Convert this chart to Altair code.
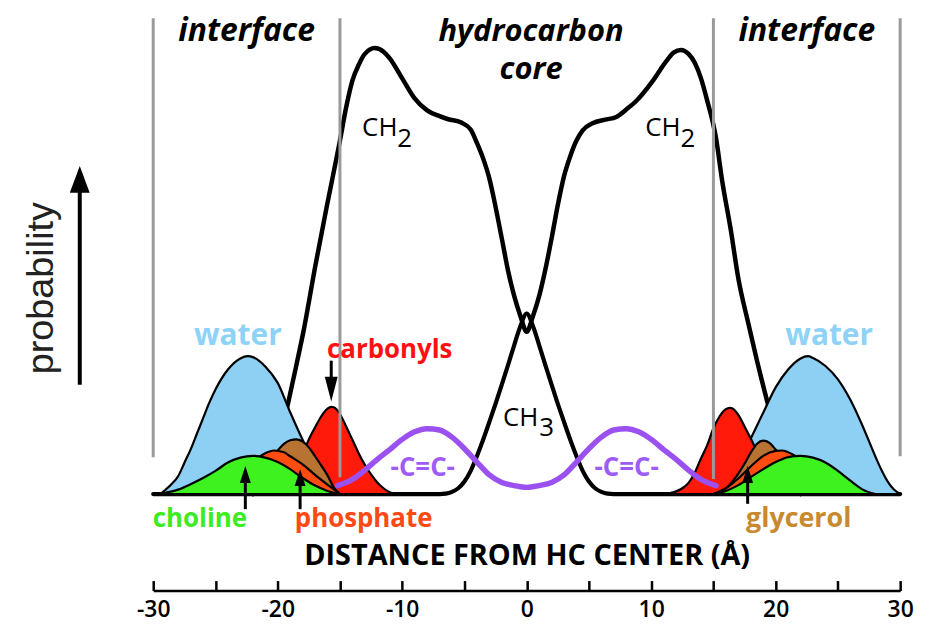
import altair as alt
import pandas as pd

# ------------------------------------------------------------------
# Data (x: distance from HC centre in Å,
# y: relative probability, arbitrary units)
# ------------------------------------------------------------------
ch2_x = [-22, -21, -20, -19.2, -18.5, -17.9, -17, -16, -15, -14.5, -14, -13.5, -13, -12.2,
         -11.5, -11, -10, -9, -8, -7, -6.3, -5.3, -4.5, -4, -3.5, -3, -2.5, -2, -1.5, -1,
         -0.5, 0, 0.5, 1, 1.5, 2, 2.5, 3, 3.5, 4, 4.5, 5.3, 6.3, 7.2, 8, 8.8, 10.1, 11.2,
         11.8, 12.4, 13, 13.5, 14, 14.5, 15.2, 15.7, 16.4, 17, 17.8, 18.5, 19.4, 20.3, 21, 22]
ch2_y = [0, 3, 10.5, 20, 29, 37, 51, 65.5, 79.5, 87, 93, 96.5, 99, 100.3,
         99.5, 98, 93.5, 89, 86.3, 85, 84.3, 83.6, 82, 79, 75.5, 71, 64.6, 57.5, 50.3, 44.5,
         40, 36.5, 40, 44.5, 50.5, 57.5, 65, 71.5, 76, 79.5, 81.8, 83.4, 84.2, 84.8, 86.5, 88.4, 92.8, 97.3,
         99.3, 99.9, 99, 97, 93.5, 88.5, 80.2, 70.5, 59.3, 48.5, 38.4, 30, 20, 11, 5, 0]

ch3_x = [-30, -7, -6.5, -6, -5.5, -5, -4.5, -4, -3.5, -3, -2.5, -2, -1.5, -1, -0.5, 0,
         0.5, 1, 1.5, 2, 2.5, 3, 3.5, 4, 4.5, 5, 5.5, 6, 6.5, 7, 30]
ch3_y = [0, 0, 0.1, 0.5, 1.3, 2.8, 5.2, 8.5, 12.2, 16.2, 20.3, 24.6, 29, 33.5, 37.8, 40.6,
         37.8, 33.5, 29, 24.6, 20.3, 16.2, 12.2, 8.5, 5.2, 2.8, 1.3, 0.5, 0.1, 0, 0]

cc_x = [-15.2, -14, -13, -12, -11, -10, -9, -8, -7, -6, -5, -4, -3, -2, -1, 0,
        1, 2, 3, 4, 5, 6, 7, 8, 9, 10, 11, 12, 13, 14, 15.2]
cc_y = [1.9, 3.3, 5.4, 7.8, 10, 12.3, 14, 14.7, 14.4, 12.8, 10.2, 7.2, 4.3, 2.6, 1.9, 1.5,
        1.9, 2.6, 4.3, 7.2, 10.2, 12.8, 14.4, 14.7, 14, 12.3, 10, 7.8, 5.4, 3.3, 1.9]

water_l_x = [-30, -29.5, -29, -28.5, -28, -27.5, -27, -26.5, -26, -25.5, -25, -24, -23, -22.4,
             -22, -21, -20, -19, -18, -17, -16, -15.5, -15]
water_l_y = [0, 0, 1, 2.3, 4, 7, 10, 13.5, 17, 20.5, 23.5, 28, 30.5, 31,
             30.8, 28.7, 25, 18.4, 12.2, 6.8, 2.8, 0.8, 0]
water_r_x = [15, 15.5, 16, 17, 18, 19, 20, 21, 22, 22.6, 23, 24, 25, 26, 27, 28, 28.5, 29, 29.5, 30]
water_r_y = [0, 0.8, 2.8, 7, 12.5, 18.3, 24, 28, 30.5, 31, 30.6, 28.8, 25.8, 21.2, 15.2, 8.5, 5.4, 2.8, 1, 0]

choline_l_x = [-29.5, -29, -28, -27, -26, -25, -24, -23, -22, -21, -20, -19, -18, -17, -16, -15]
choline_l_y = [0, 0.3, 1, 2.2, 3.6, 5.2, 7.1, 8.2, 8.6, 8.2, 7.2, 5.6, 3.6, 1.9, 0.7, 0]
choline_r_x = [15, 16, 17, 18, 19, 20, 21, 22, 23, 24, 25, 26, 27, 28]
choline_r_y = [0, 0.7, 2.0, 3.8, 5.6, 7.2, 8.3, 8.6, 8.2, 7.1, 5.2, 3.0, 1.0, 0]

phosphate_l_x = [-27, -26, -25, -24, -23, -22, -21, -20.3, -19.5, -19, -18, -17, -16, -15]
phosphate_l_y = [0, 0.5, 1.5, 3, 5, 7.3, 9.2, 9.8, 9.4, 8.5, 6.7, 4.3, 2.1, 0]
phosphate_r_x = [15, 16, 17, 18, 19, 20, 20.5, 21, 22, 23, 24, 25, 26, 27]
phosphate_r_y = [0, 1.3, 3.5, 6.2, 8.6, 9.7, 9.8, 9.4, 7.8, 5.5, 3.4, 1.8, 0.6, 0]

glycerol_l_x = [-24, -23, -22, -21, -20, -19.5, -19, -18.5, -18, -17.5, -17, -16.5, -16, -15.5, -15]
glycerol_l_y = [0, 0.5, 2.5, 6, 9.8, 11.3, 12.1, 12.3, 11.8, 10.5, 8.5, 6.4, 4.2, 1.5, 0]
glycerol_r_x = [15, 15.5, 16, 16.5, 17, 17.5, 18, 18.5, 19, 19.5, 20, 21, 22, 23, 24]
glycerol_r_y = [0, 0.5, 1.2, 2.7, 4.6, 6.8, 9.3, 11.3, 12, 11.5, 10, 6.5, 3, 1, 0]

carbonyl_l_x = [-22, -21, -20, -19, -18, -17.5, -17, -16.5, -16, -15.7, -15.5, -15, -14.5, -14,
                -13.5, -13, -12.5, -12, -11.5, -11, -10.5]
carbonyl_l_y = [0, 0.6, 2, 4.8, 9, 12.3, 15, 17.5, 19.2, 19.6, 19.5, 18, 15.2, 12.2,
                9.2, 6.6, 4.4, 2.6, 1.3, 0.4, 0]
carbonyl_r_x = [11, 11.5, 12, 12.5, 13, 13.5, 14, 14.5, 15, 15.5, 16, 16.3, 16.5, 17, 17.5,
                18, 18.5, 19, 20, 21, 22]
carbonyl_r_y = [0, 0.2, 0.6, 1.3, 2.5, 4.8, 8, 11, 14.8, 17.5, 19.1, 19.4, 19.3, 17.8, 15.2,
                12.5, 9.5, 6.6, 2.6, 0.6, 0]

# region boundaries (Å) and the extent of the grey lines
boundary_x = [-30, -15, 15, 30]
boundary_top = [107, 107, 107, 107]
boundary_bottom = [8.3, 3.8, 3.4, 8.5]

tick_label_values = [-30, -20, -10, 0, 10, 20, 30]
tick_values = [-30, -25, -20, -15, -10, -5, 0, 5, 10, 15, 20, 25, 30]

# ------------------------------------------------------------------
# Layout
# ------------------------------------------------------------------
PAD_TOP = 10
W, H = 751, 574
X_DOMAIN = [-30, 30]
Y_DOMAIN = [-21.7, 106.71]
PX = H / (Y_DOMAIN[1] - Y_DOMAIN[0])      # pixels per y unit
FONT = "Open Sans"

xs = alt.Scale(domain=X_DOMAIN, nice=False, zero=False)
ys = alt.Scale(domain=Y_DOMAIN, nice=False, zero=False)


def frame(x, y):
    return pd.DataFrame({"x": x, "y": y})


def X(axis=None):
    return alt.X("x:Q", scale=xs, axis=axis)


def Y():
    return alt.Y("y:Q", scale=ys, axis=None)


def line(x, y, color, width, axis=None):
    return alt.Chart(frame(x, y)).mark_line(
        color=color, strokeWidth=width, interpolate="monotone",
        strokeCap="round", strokeJoin="round"
    ).encode(x=X(axis), y=Y())


def area(x, y, fill):
    return alt.Chart(frame(x, y)).mark_area(
        fill=fill, fillOpacity=1, stroke="black", strokeWidth=2.2,
        interpolate="monotone", strokeJoin="round"
    ).encode(x=X(), y=Y(), y2=alt.datum(0))


def label(text, x, y, size, color="black", weight="normal", style="normal",
          font=FONT, angle=0, baseline="alphabetic"):
    d = pd.DataFrame({"x": [x], "y": [y], "t": [text]})
    return alt.Chart(d).mark_text(
        font=font, fontSize=size, fontWeight=weight, fontStyle=style, color=color,
        angle=angle, align="center", baseline=baseline
    ).encode(x=X(), y=Y(), text="t:N")


def arrow(x, tail, tip, head_len, head_w, shaft_w):
    up = tip > tail
    sgn = 1 if up else -1
    center = tip - sgn * (head_len / 2) / PX
    hw = head_w / head_len
    path = (f"M0,-1L{-hw:.3f},1L{hw:.3f},1Z" if up else f"M0,1L{-hw:.3f},-1L{hw:.3f},-1Z")
    shaft = alt.Chart(pd.DataFrame({"x": [x], "y": [tail], "y2": [center]})).mark_rule(
        color="black", strokeWidth=shaft_w
    ).encode(x=X(), y=Y(), y2="y2:Q")
    head = alt.Chart(pd.DataFrame({"x": [x], "y": [center]})).mark_point(
        shape=path, size=head_len ** 2, filled=True, color="black", opacity=1, strokeWidth=0
    ).encode(x=X(), y=Y())
    return [shaft, head]


bottom_axis = alt.Axis(
    orient="bottom", values=tick_label_values, labelExpr="datum.value + ''",
    ticks=False, tickSize=0, domain=True, domainColor="black", domainWidth=2.5,
    labelFont=FONT, labelFontSize=23, labelFontWeight=600, labelColor="black",
    labelPadding=19, labelBaseline="middle", labelFlush=False, labelOverlap=False,
    grid=False, title="DISTANCE FROM HC CENTER (Å)", titleFont=FONT, titleFontSize=29,
    titleFontWeight="bold", titleColor="black", titleY=-35, titleBaseline="middle",
)
tick_axis = alt.Axis(
    orient="top", offset=-H, values=tick_values, ticks=True, tickSize=10, tickWidth=2.5,
    tickColor="black", labels=False, domain=False, grid=False, title=None,
)

layers = [
    line(ch3_x, ch3_y, "black", 4.2, axis=bottom_axis),
    line(ch2_x, ch2_y, "black", 4.5, axis=tick_axis),
    area(water_l_x, water_l_y, "#8ECFF4"),
    area(water_r_x, water_r_y, "#8ECFF4"),
    area(carbonyl_l_x, carbonyl_l_y, "#FF1A0A"),
    area(carbonyl_r_x, carbonyl_r_y, "#FF1A0A"),
    area(glycerol_l_x, glycerol_l_y, "#B87333"),
    area(glycerol_r_x, glycerol_r_y, "#B87333"),
    area(phosphate_l_x, phosphate_l_y, "#FF4D12"),
    area(phosphate_r_x, phosphate_r_y, "#FF4D12"),
    area(choline_l_x, choline_l_y, "#3DF21F"),
    area(choline_r_x, choline_r_y, "#3DF21F"),
    alt.Chart(pd.DataFrame({"x": boundary_x, "y": boundary_top, "y2": boundary_bottom}))
    .mark_rule(color="#9a9a9a", strokeWidth=3)
    .encode(x=X(), y=Y(), y2="y2:Q"),
    line(cc_x, cc_y, "#9B50F0", 5.5),
]

# arrows: x, tail, tip, head length px, head width px, shaft width px
layers += arrow(-15.7, 30.0, 20.8, 25, 13, 3)
layers += arrow(-22.6, -3.4, 6.3, 17, 11, 3)
layers += arrow(-18.2, -3.4, 5.6, 17, 11, 3)
layers += arrow(17.75, -2.2, 6.3, 17, 11, 3)
layers += arrow(-35.9, 24.6, 73.8, 27, 20, 4)

layers += [
    label("interface", -22.5, 102, 32, weight="bold", style="italic"),
    label("interface", 22.5, 102, 32, weight="bold", style="italic"),
    label("hydrocarbon", 0.35, 102, 31, weight="bold", style="italic"),
    label("core", 0.35, 93.3, 31, weight="bold", style="italic"),
    label("CH", -11.8, 80.5, 26, weight=500),
    label("2", -9.8, 78.1, 26, weight=500),
    label("CH", 10.95, 80.5, 26, weight=500),
    label("2", 12.95, 78.1, 26, weight=500),
    label("CH", -0.48, 15.2, 26, weight=500),
    label("3", 1.6, 13.0, 26, weight=500),
    label("-C=C-", -8.35, 5.8, 26, color="#9E5CF7", weight="bold", baseline="middle"),
    label("-C=C-", 8.03, 5.8, 26, color="#9E5CF7", weight="bold", baseline="middle"),
    label("water", -23.2, 33.6, 30, color="#8ED3F7", weight="bold"),
    label("water", 24.3, 33.6, 30, color="#8ED3F7", weight="bold"),
    label("carbonyls", -11.0, 30.6, 26, color="#FF1111", weight="bold"),
    label("choline", -26.25, -7.5, 26, color="#3DEB1F", weight="bold"),
    label("phosphate", -13.1, -7.5, 26, color="#FF4A14", weight="bold"),
    label("glycerol", 21.85, -7.5, 27, color="#C8892F", weight="bold"),
    label("probability", -38.95, 46.3, 38, color="#222222", font="Liberation Sans",
          angle=270, baseline="middle"),
]

chart = (
    alt.layer(*layers)
    .resolve_axis(x="independent")
    .properties(
        width=W, height=H,
        padding={"left": 146, "top": PAD_TOP, "right": 30, "bottom": 34},
        autosize=alt.AutoSizeParams(type="none"),
        background="white",
    )
    .configure_view(stroke=None)
)

chart.save("out.html", embed_options={"renderer": "svg", "actions": False})
